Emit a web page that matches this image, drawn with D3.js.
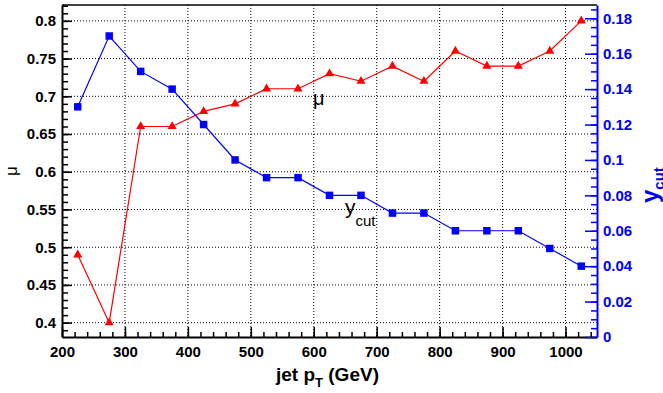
<!DOCTYPE html>
<html>
<head>
<meta charset="utf-8">
<script src="https://cdnjs.cloudflare.com/ajax/libs/d3/7.8.5/d3.min.js"></script>
<style>
body { margin: 0; background: #fff; }
svg { font-family: 'Liberation Sans', Arial, sans-serif; }
</style>
</head>
<body>
<svg id="chart" width="663" height="393"></svg>
<script>
// jet pT bin centres (GeV)
var ptBins = [225, 275, 325, 375, 425, 475, 525, 575, 625, 675, 725, 775, 825, 875, 925, 975, 1025];
var muVals = [0.49, 0.40, 0.66, 0.66, 0.68, 0.69, 0.71, 0.71, 0.73, 0.72, 0.74, 0.72, 0.76, 0.74, 0.74, 0.76, 0.80];
var ycutVals = [0.13, 0.17, 0.15, 0.14, 0.12, 0.10, 0.09, 0.09, 0.08, 0.08, 0.07, 0.07, 0.06, 0.06, 0.06, 0.05, 0.04];

var xTicks = [200, 300, 400, 500, 600, 700, 800, 900, 1000];
var muTicks = [0.4, 0.45, 0.5, 0.55, 0.6, 0.65, 0.7, 0.75, 0.8];
var muLabels = ['0.4', '0.45', '0.5', '0.55', '0.6', '0.65', '0.7', '0.75', '0.8'];
var ycutTicks = [0, 0.02, 0.04, 0.06, 0.08, 0.1, 0.12, 0.14, 0.16, 0.18];
var ycutLabels = ['0', '0.02', '0.04', '0.06', '0.08', '0.1', '0.12', '0.14', '0.16', '0.18'];

var svg = d3.select('#chart');

// frame edges (window.top is taken, so own names)
var padL = 62, padR = 597, padT = 5, padB = 337;

var xscale = d3.scaleLinear().domain([200, 1050]).range([padL, padR]);
var muscale = d3.scaleLinear().domain([0.381, 0.821]).range([padB, padT]);
var cutscale = d3.scaleLinear().domain([0, 0.1875]).range([padB, padT]);

// grid
svg.append('g')
	.selectAll('line')
	.data(xTicks.filter(d => d > 200))
	.enter().append('line')
	.attr('x1', d => xscale(d)).attr('x2', d => xscale(d))
	.attr('y1', padT).attr('y2', padB)
	.attr('stroke', 'black')
	.attr('stroke-dasharray', '1,2');

svg.append('g')
	.selectAll('line')
	.data(muTicks)
	.enter().append('line')
	.attr('x1', padL).attr('x2', padR)
	.attr('y1', d => muscale(d)).attr('y2', d => muscale(d))
	.attr('stroke', 'black')
	.attr('stroke-dasharray', '1,2');

// top frame
svg.append('line')
	.attr('x1', padL).attr('x2', padR)
	.attr('y1', padT).attr('y2', padT)
	.attr('stroke', 'black')
	.attr('stroke-width', 1.5);

var styleAxis = function(g, color, size) {
	g.selectAll('path').attr('stroke', color).attr('stroke-width', 2);
	g.selectAll('line').attr('stroke', color).attr('stroke-width', 1.5);
	g.selectAll('text')
		.attr('fill', color)
		.attr('font-weight', 'bold')
		.attr('font-size', size);
}

// minor ticks
var minor = function(axis, tr, color) {
	var g = svg.append('g')
		.attr('transform', tr)
		.call(axis);
	g.select('.domain').remove();
	g.selectAll('line').attr('stroke', color).attr('stroke-width', 1.5);
}
minor(d3.axisBottom(xscale).tickValues(xscale.ticks(42)).tickSize(-5).tickFormat(''), 'translate(0,' + padB + ')', 'black');
minor(d3.axisLeft(muscale).tickValues(muscale.ticks(44)).tickSize(-6).tickFormat(''), 'translate(' + padL + ',0)', 'black');
minor(d3.axisRight(cutscale).tickValues(cutscale.ticks(38)).tickSize(-6).tickFormat(''), 'translate(' + padR + ',0)', 'blue');

// major axes
var xaxis = svg.append('g')
	.attr('transform', 'translate(0,' + padB + ')')
	.call(d3.axisBottom(xscale).tickValues(xTicks).tickSize(-10).tickSizeOuter(0).tickPadding(9).tickFormat(d => d));
styleAxis(xaxis, 'black', 15);

var muaxis = svg.append('g')
	.attr('transform', 'translate(' + padL + ',0)')
	.call(d3.axisLeft(muscale).tickValues(muTicks).tickSize(-10).tickSizeOuter(0).tickPadding(6).tickFormat((d, i) => muLabels[i]));
styleAxis(muaxis, 'black', 15);

var cutaxis = svg.append('g')
	.attr('transform', 'translate(' + padR + ',0)')
	.call(d3.axisRight(cutscale).tickValues(ycutTicks).tickSize(-12).tickSizeOuter(0).tickPadding(6).tickFormat((d, i) => ycutLabels[i]));
styleAxis(cutaxis, 'blue', 15);

// series
var muline = d3.line().x((d, i) => xscale(ptBins[i])).y(d => muscale(d));
var cutline = d3.line().x((d, i) => xscale(ptBins[i])).y(d => cutscale(d));

svg.append('path')
	.datum(muVals)
	.attr('d', muline)
	.attr('fill', 'none')
	.attr('stroke', 'red')
	.attr('stroke-width', 1.2);

svg.append('path')
	.datum(ycutVals)
	.attr('d', cutline)
	.attr('fill', 'none')
	.attr('stroke', 'blue')
	.attr('stroke-width', 1.2);

svg.append('g')
	.selectAll('path')
	.data(muVals)
	.enter().append('path')
	.attr('transform', (d, i) => 'translate(' + xscale(ptBins[i]) + ',' + muscale(d) + ')')
	.attr('d', d3.symbol().type(d3.symbolTriangle).size(36))
	.attr('fill', 'red');

svg.append('g')
	.selectAll('path')
	.data(ycutVals)
	.enter().append('path')
	.attr('transform', (d, i) => 'translate(' + xscale(ptBins[i]) + ',' + cutscale(d) + ')')
	.attr('d', d3.symbol().type(d3.symbolSquare).size(56))
	.attr('fill', 'blue');

// titles
var xt = svg.append('text')
	.attr('x', 276).attr('y', 381)
	.attr('font-size', 19)
	.attr('font-weight', 'bold');
xt.append('tspan').text('jet p');
xt.append('tspan').attr('font-size', 13).attr('dy', 6).text('T');
xt.append('tspan').attr('dy', -6).text(' (GeV)');

svg.append('text')
	.attr('transform', 'translate(17,171) rotate(-90)')
	.attr('text-anchor', 'middle')
	.attr('font-size', 17)
	.text('μ');

var yt = svg.append('text')
	.attr('transform', 'translate(658,203) rotate(-90)')
	.attr('fill', 'blue')
	.attr('font-weight', 'bold')
	.attr('font-size', 24);
yt.append('tspan').text('y');
yt.append('tspan').attr('font-size', 15).attr('dy', 6).text('cut');

// in-plot labels
svg.append('text')
	.attr('x', 313).attr('y', 105)
	.attr('font-size', 20)
	.text('μ');

var yc = svg.append('text')
	.attr('x', 345).attr('y', 214)
	.attr('font-size', 21);
yc.append('tspan').text('y');
yc.append('tspan').attr('font-size', 15).attr('dy', 12).text('cut');
</script>
</body>
</html>
